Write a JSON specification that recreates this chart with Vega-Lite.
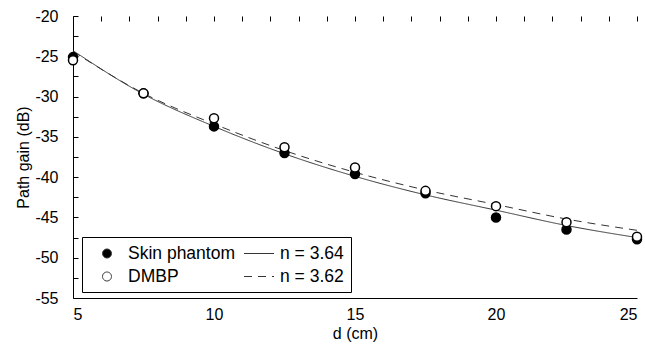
{
  "$schema": "https://vega.github.io/schema/vega-lite/v6.json",
  "width": 564,
  "height": 282,
  "autosize": {"type": "none"},
  "padding": {"left": 73, "top": 16, "right": 8, "bottom": 47},
  "background": "white",
  "config": {
    "view": {"stroke": null},
    "font": "Liberation Sans",
    "axis": {
      "domainColor": "black",
      "labelColor": "black",
      "titleColor": "black",
      "labelFont": "Liberation Sans",
      "titleFont": "Liberation Sans",
      "labelFontSize": 16,
      "titleFontSize": 16,
      "titleFontWeight": "normal",
      "labelOverlap": false,
      "grid": true,
      "gridColor": "black",
      "gridOpacity": 1,
      "gridWidth": 1,
      "gridDash": [5, 2000],
      "ticks": false,
      "tickSize": 0
    }
  },
  "datasets": {
    "fits": [
      {"d": 5, "gain": -24.3, "series": "n = 3.64"},
      {"d": 7.5, "gain": -29.7, "series": "n = 3.64"},
      {"d": 10, "gain": -33.7, "series": "n = 3.64"},
      {"d": 12.5, "gain": -37.1, "series": "n = 3.64"},
      {"d": 15, "gain": -39.9, "series": "n = 3.64"},
      {"d": 17.5, "gain": -42.2, "series": "n = 3.64"},
      {"d": 20, "gain": -44.1, "series": "n = 3.64"},
      {"d": 22.5, "gain": -46.0, "series": "n = 3.64"},
      {"d": 25, "gain": -47.5, "series": "n = 3.64"},
      {"d": 5, "gain": -24.4, "series": "n = 3.62"},
      {"d": 7.5, "gain": -29.6, "series": "n = 3.62"},
      {"d": 10, "gain": -33.4, "series": "n = 3.62"},
      {"d": 12.5, "gain": -36.7, "series": "n = 3.62"},
      {"d": 15, "gain": -39.4, "series": "n = 3.62"},
      {"d": 17.5, "gain": -41.6, "series": "n = 3.62"},
      {"d": 20, "gain": -43.4, "series": "n = 3.62"},
      {"d": 22.5, "gain": -45.2, "series": "n = 3.62"},
      {"d": 25, "gain": -46.6, "series": "n = 3.62"}
    ],
    "points": [
      {"d": 5, "gain": -25.1, "series": "Skin phantom"},
      {"d": 7.5, "gain": -29.6, "series": "Skin phantom"},
      {"d": 10, "gain": -33.7, "series": "Skin phantom"},
      {"d": 12.5, "gain": -37.0, "series": "Skin phantom"},
      {"d": 15, "gain": -39.6, "series": "Skin phantom"},
      {"d": 17.5, "gain": -42.0, "series": "Skin phantom"},
      {"d": 20, "gain": -45.0, "series": "Skin phantom"},
      {"d": 22.5, "gain": -46.5, "series": "Skin phantom"},
      {"d": 25, "gain": -47.7, "series": "Skin phantom"},
      {"d": 5, "gain": -25.5, "series": "DMBP"},
      {"d": 7.5, "gain": -29.6, "series": "DMBP"},
      {"d": 10, "gain": -32.7, "series": "DMBP"},
      {"d": 12.5, "gain": -36.3, "series": "DMBP"},
      {"d": 15, "gain": -38.8, "series": "DMBP"},
      {"d": 17.5, "gain": -41.7, "series": "DMBP"},
      {"d": 20, "gain": -43.6, "series": "DMBP"},
      {"d": 22.5, "gain": -45.6, "series": "DMBP"},
      {"d": 25, "gain": -47.4, "series": "DMBP"}
    ]
  },
  "encoding": {
    "x": {
      "field": "d",
      "type": "quantitative",
      "scale": {"domain": [5, 25], "nice": false, "zero": false},
      "axis": {
        "title": "d (cm)",
        "values": [5,6,7,8,9,10,11,12,13,14,15,16,17,18,19,20,21,22,23,24,25],
        "labelExpr": "datum.value % 5 === 0 ? '' + datum.value : ''",
        "labelPadding": 8,
        "titlePadding": 3
      }
    },
    "y": {
      "field": "gain",
      "type": "quantitative",
      "scale": {"domain": [-55, -20], "nice": false, "zero": false},
      "axis": {
        "title": "Path gain (dB)",
        "values": [-55,-52.5,-50,-47.5,-45,-42.5,-40,-37.5,-35,-32.5,-30,-27.5,-25,-22.5,-20],
        "labelExpr": "datum.value % 5 === 0 ? '' + datum.value : ''",
        "labelPadding": 15,
        "titlePadding": 3
      }
    }
  },
  "layer": [
    {
      "data": {"name": "fits"},
      "mark": {"type": "line", "color": "#333333", "strokeWidth": 1, "interpolate": "monotone"},
      "encoding": {
        "strokeDash": {
          "field": "series",
          "type": "nominal",
          "scale": {
            "domain": ["Skin phantom", "n = 3.64", "DMBP", "n = 3.62"],
            "range": [[1, 0], [1, 0], [1, 0], [8, 6]]
          },
          "legend": {
            "title": null,
            "orient": "none",
            "legendX": 9,
            "legendY": 221,
            "direction": "horizontal",
            "columns": 2,
            "columnPadding": 5,
            "rowPadding": 5,
            "padding": 7,
            "strokeColor": "black",
            "fillColor": "white",
            "labelFont": "Liberation Sans",
            "labelFontSize": 17.5,
            "labelColor": "black",
            "labelOffset": 11.5,
            "symbolOffset": 8.5,
            "symbolSize": 324,
            "symbolStrokeWidth": 1
          }
        }
      }
    },
    {
      "data": {"name": "points"},
      "mark": {"type": "point", "filled": false, "size": 324, "strokeWidth": 1.5, "stroke": "black", "opacity": 1},
      "encoding": {
        "fill": {
          "field": "series",
          "type": "nominal",
          "scale": {
            "domain": ["Skin phantom", "n = 3.64", "DMBP", "n = 3.62"],
            "range": ["black", "white", "white", "white"]
          },
          "legend": {
            "title": null,
            "orient": "none",
            "legendX": 9,
            "legendY": 221,
            "direction": "horizontal",
            "columns": 2,
            "columnPadding": 5,
            "rowPadding": 5,
            "padding": 7,
            "strokeColor": "black",
            "fillColor": "white",
            "labelFont": "Liberation Sans",
            "labelFontSize": 17.5,
            "labelColor": "black",
            "labelOffset": 11.5,
            "symbolOffset": 8.5,
            "symbolSize": 324,
            "symbolStrokeWidth": 1
          }
        },
        "shape": {
          "field": "series",
          "type": "nominal",
          "scale": {
            "domain": ["Skin phantom", "n = 3.64", "DMBP", "n = 3.62"],
            "range": [
              "M -0.5 0 A 0.5 0.5 0 1 0 0.5 0 A 0.5 0.5 0 1 0 -0.5 0 Z",
              "M -1.667 0 L 1.667 0",
              "M -0.5 0 A 0.5 0.5 0 1 0 0.5 0 A 0.5 0.5 0 1 0 -0.5 0 Z",
              "M -1.667 0 L 1.667 0"
            ]
          },
          "legend": {
            "title": null,
            "orient": "none",
            "legendX": 9,
            "legendY": 221,
            "direction": "horizontal",
            "columns": 2,
            "columnPadding": 5,
            "rowPadding": 5,
            "padding": 7,
            "strokeColor": "black",
            "fillColor": "white",
            "labelFont": "Liberation Sans",
            "labelFontSize": 17.5,
            "labelColor": "black",
            "labelOffset": 11.5,
            "symbolOffset": 8.5,
            "symbolSize": 324,
            "symbolStrokeWidth": 1
          }
        }
      }
    }
  ]
}
